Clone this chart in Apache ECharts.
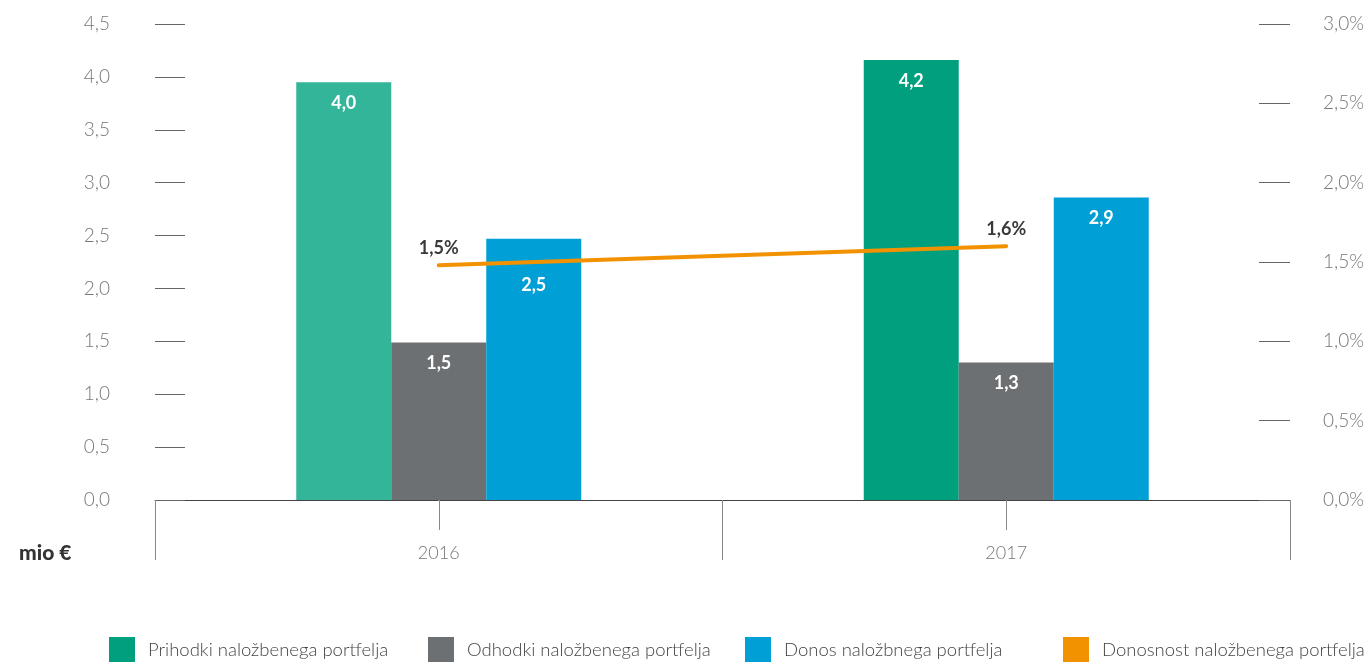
<!DOCTYPE html>
<html>
<head>
<meta charset="utf-8">
<script src="https://cdn.jsdelivr.net/npm/echarts@6/dist/echarts.min.js"></script>
<style>
  html, body { margin: 0; padding: 0; background: #fff; }
  #chart { width: 1370px; height: 662px; }
</style>
</head>
<body>
<div id="chart"></div>
<script>
var years = ["2016", "2017"];
var prihodki = [3.95, 4.16];
var odhodki = [1.49, 1.3];
var donos = [2.47, 2.86];
var donosnost = [1.48, 1.6];

var names = [
  "Prihodki naložbenega portfelja",
  "Odhodki naložbenega portfelja",
  "Donos naložbnega portfelja",
  "Donosnost naložbenega portfelja"
];

var FONT = "Lato";
var comma = function (v, d) { return v.toFixed(d).replace(".", ","); };

var chart = echarts.init(document.getElementById("chart"));

var barLabel = {
  show: true,
  position: "insideTop",
  distance: 12,
  color: "#fff",
  fontFamily: FONT,
  fontWeight: "bold",
  fontSize: 18,
  formatter: function (p) { return comma(p.value, 1); }
};

var legendLefts = [104, 423, 740, 1058];
var legends = names.map(function (n, i) {
  return {
    data: [n],
    left: legendLefts[i],
    top: 632,
    itemWidth: 26,
    itemHeight: 26,
    icon: "rect",
    selectedMode: false,
    textStyle: { fontFamily: FONT, fontWeight: 300, fontSize: 18.5, color: "#444", padding: [0, 0, 0, 8] }
  };
});

chart.setOption({
  animation: false,
  grid: { left: 155, right: 80, top: 24, bottom: 162 },
  legend: legends,
  graphic: [{
    type: "text",
    left: 19,
    top: 543,
    style: { text: "mio €", fontFamily: FONT, fontWeight: 900, fontSize: 21, fill: "#333" }
  }],
  xAxis: [
    {
      type: "category",
      data: years,
      position: "bottom",
      axisLine: { lineStyle: { color: "#444", width: 1 } },
      axisTick: { show: true, interval: 0, length: 60, lineStyle: { color: "#888" } },
      axisLabel: { margin: 44, fontFamily: FONT, fontWeight: 300, fontSize: 18, color: "#777" }
    },
    {
      type: "category",
      data: years,
      position: "bottom",
      axisLine: { show: false },
      axisTick: { show: true, alignWithLabel: true, length: 30, lineStyle: { color: "#888" } },
      axisLabel: { show: false }
    }
  ],
  yAxis: [
    {
      type: "value",
      min: 0,
      max: 4.5,
      interval: 0.5,
      position: "left",
      axisLine: { show: false },
      axisTick: { show: true, inside: true, length: 30, lineStyle: { color: "#666" } },
      splitLine: { show: false },
      axisLabel: {
        margin: 45,
        fontFamily: FONT,
        fontWeight: 300,
        fontSize: 19,
        color: "#777",
        formatter: function (v) { return comma(v, 1); }
      }
    },
    {
      type: "value",
      min: 0,
      max: 3,
      interval: 0.5,
      position: "right",
      axisLine: { show: false },
      axisTick: { show: true, inside: true, length: 31, lineStyle: { color: "#666" } },
      splitLine: { show: false },
      axisLabel: {
        margin: 33,
        fontFamily: FONT,
        fontWeight: 300,
        fontSize: 19,
        color: "#777",
        formatter: function (v) { return comma(v, 1) + "%"; }
      }
    }
  ],
  series: [
    {
      name: names[0],
      type: "bar",
      barWidth: 95,
      barGap: "0%",
      itemStyle: { color: "#00a07f" },
      label: barLabel,
      data: prihodki.map(function (v, i) {
        return i === 0 ? { value: v, itemStyle: { color: "#33b59a" } } : v;
      })
    },
    {
      name: names[1],
      type: "bar",
      barWidth: 95,
      barGap: "0%",
      itemStyle: { color: "#6d7073" },
      label: barLabel,
      data: odhodki
    },
    {
      name: names[2],
      type: "bar",
      barWidth: 95,
      barGap: "0%",
      itemStyle: { color: "#009fd6" },
      label: barLabel,
      // first label sits lower so the line does not cross it
      data: donos.map(function (v, i) {
        return i === 0 ? { value: v, label: { distance: 37 } } : v;
      })
    },
    {
      name: names[3],
      type: "line",
      yAxisIndex: 1,
      symbol: "circle",
      symbolSize: 0,
      showSymbol: true,
      itemStyle: { color: "#f39200" },
      lineStyle: { color: "#f39200", width: 4, cap: "round" },
      label: {
        show: true,
        position: "top",
        distance: 8,
        color: "#3a3a3a",
        fontFamily: FONT,
        fontWeight: "bold",
        fontSize: 18,
        formatter: function (p) { return comma(p.value, 1) + "%"; }
      },
      data: donosnost
    }
  ]
});
</script>
</body>
</html>
